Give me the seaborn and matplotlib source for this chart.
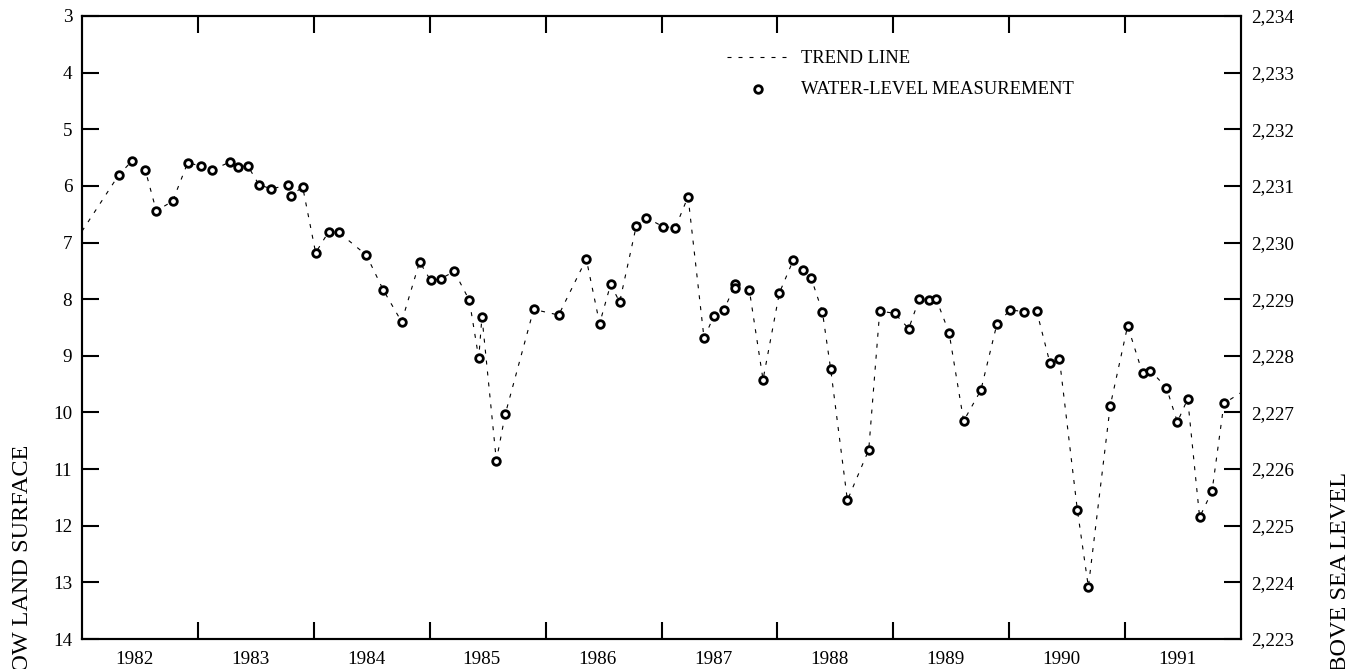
import numpy as np
import pandas as pd
import matplotlib
matplotlib.use("Agg")
import matplotlib.pyplot as plt
import matplotlib.ticker as mticker
import seaborn as sns

# measurement dates (decimal years) and depth to water (ft below land surface)
meas_year = [1982.316, 1982.431, 1982.546, 1982.641, 1982.782, 1982.912, 1983.027, 1983.122,
             1983.274, 1983.343, 1983.429, 1983.527, 1983.631, 1983.780, 1983.800, 1983.904,
             1984.016, 1984.128, 1984.215, 1984.453, 1984.600, 1984.758, 1984.913, 1985.008,
             1985.095, 1985.212, 1985.342, 1985.423, 1985.451, 1985.575, 1985.652, 1985.897,
             1986.113, 1986.351, 1986.466, 1986.561, 1986.639, 1986.783, 1986.869, 1987.013,
             1987.119, 1987.229, 1987.367, 1987.453, 1987.540, 1987.634, 1987.637, 1987.758,
             1987.876, 1988.017, 1988.137, 1988.224, 1988.290, 1988.388, 1988.460, 1988.604,
             1988.788, 1988.883, 1989.012, 1989.133, 1989.225, 1989.311, 1989.369, 1989.481,
             1989.607, 1989.755, 1989.895, 1990.010, 1990.130, 1990.237, 1990.352, 1990.433,
             1990.588, 1990.683, 1990.872, 1991.022, 1991.151, 1991.218, 1991.356, 1991.451,
             1991.540, 1991.643, 1991.750, 1991.853]
meas_depth = [5.81, 5.56, 5.72, 6.44, 6.27, 5.59, 5.65, 5.72, 5.58, 5.67,
              5.64, 5.98, 6.05, 5.99, 6.17, 6.02, 7.18, 6.81, 6.82, 7.22,
              7.84, 8.40, 7.34, 7.67, 7.64, 7.51, 8.02, 9.04, 8.31, 10.85,
              10.03, 8.18, 8.28, 7.29, 8.43, 7.74, 8.05, 6.70, 6.56, 6.72,
              6.74, 6.19, 8.69, 8.29, 8.19, 7.74, 7.81, 7.84, 9.42, 7.89,
              7.31, 7.49, 7.62, 8.22, 9.24, 11.55, 10.66, 8.21, 8.25, 8.52,
              7.99, 8.01, 7.99, 8.59, 10.15, 9.61, 8.43, 8.19, 8.22, 8.21,
              9.13, 9.05, 11.72, 13.08, 9.88, 8.47, 9.31, 9.26, 9.56, 10.17,
              9.76, 11.85, 11.39, 9.84]

# trend line runs on past the first and last measurement to the frame
trend_start = (1982.0, 6.8)
trend_end = (1992.0, 9.65)

years = list(range(1982, 1992))
depth_ticks = list(range(3, 15))
land_surface = 2237  # altitude of land surface, ft

meas = pd.DataFrame({"year": meas_year, "depth": meas_depth})
trend = pd.DataFrame({
    "year": [trend_start[0]] + meas_year + [trend_end[0]],
    "depth": [trend_start[1]] + meas_depth + [trend_end[1]],
})

sns.set_theme(style="white")
plt.rcParams['font.family'] = ['Liberation Serif', 'DejaVu Serif']
plt.rcParams['axes.edgecolor'] = 'black'
plt.rcParams['axes.linewidth'] = 1.5
plt.rcParams['text.color'] = 'black'
plt.rcParams['xtick.color'] = 'black'
plt.rcParams['ytick.color'] = 'black'

fig = plt.figure(figsize=(13.7, 6.69), dpi=100)
ax = fig.add_axes([82 / 1370, 1 - 639 / 669, (1241 - 82) / 1370, (639 - 16) / 669])

sns.lineplot(data=trend, x="year", y="depth", ax=ax, color="black", lw=0.8,
             linestyle=(0, (3.6, 6.3)), estimator=None, label="TREND LINE")
sns.scatterplot(data=meas, x="year", y="depth", ax=ax, marker="o", s=30,
                facecolor="white", edgecolor="black", linewidth=2,
                zorder=3, label="WATER-LEVEL MEASUREMENT")

ax.set_xlim(1982, 1992)
ax.set_ylim(14, 3)
ax.set_xlabel("")
ax.set_ylabel("")

# year boundaries as ticks, labels centred in each year
ax.set_xticks(years[1:])
ax.set_xticklabels([])
ax.set_xticks([y + 0.45 for y in years], minor=True)
ax.set_xticklabels([str(y) for y in years], minor=True, fontsize=13.8)
ax.tick_params(axis="x", which="major", direction="in", length=12, width=1.5,
               top=True, bottom=True)
ax.tick_params(axis="x", which="minor", length=0, pad=9)

ax.set_yticks(depth_ticks)
ax.set_yticklabels([str(d) for d in depth_ticks], fontsize=13.8)
ax.tick_params(axis="y", direction="in", length=12, width=1.5, left=True, pad=7)

ax2 = ax.twinx()
ax2.set_ylim(land_surface - 14, land_surface - 3)
ax2.set_yticks([land_surface - d for d in depth_ticks])
ax2.yaxis.set_major_formatter(mticker.FuncFormatter(lambda v, p: f"{v:,.0f}"))
ax2.tick_params(axis="y", direction="in", length=12, width=1.5, right=True,
                labelsize=13.8, pad=7)
ax2.grid(False)
ax.grid(False)

ax.legend(loc="upper left", bbox_to_anchor=(727 / 1370, 1 - 50 / 669),
          bbox_transform=fig.transFigure, frameon=False, fontsize=13.4,
          handlelength=3.3, handletextpad=0.65, labelspacing=0.75,
          borderpad=0, borderaxespad=0, scatterpoints=1)

# axis titles run off the bottom of the sheet, as in the original
fig.text(23 / 1370, 1 - 445 / 669, "DEPTH TO WATER, IN FEET BELOW LAND SURFACE",
         rotation=90, rotation_mode="anchor", ha="right", va="center", fontsize=17.5)
fig.text(1341 / 1370, 1 - 472 / 669, "WATER-LEVEL ALTITUDE, IN FEET ABOVE SEA LEVEL",
         rotation=90, rotation_mode="anchor", ha="right", va="center", fontsize=17.5)

fig.savefig("out.png", dpi=100)
